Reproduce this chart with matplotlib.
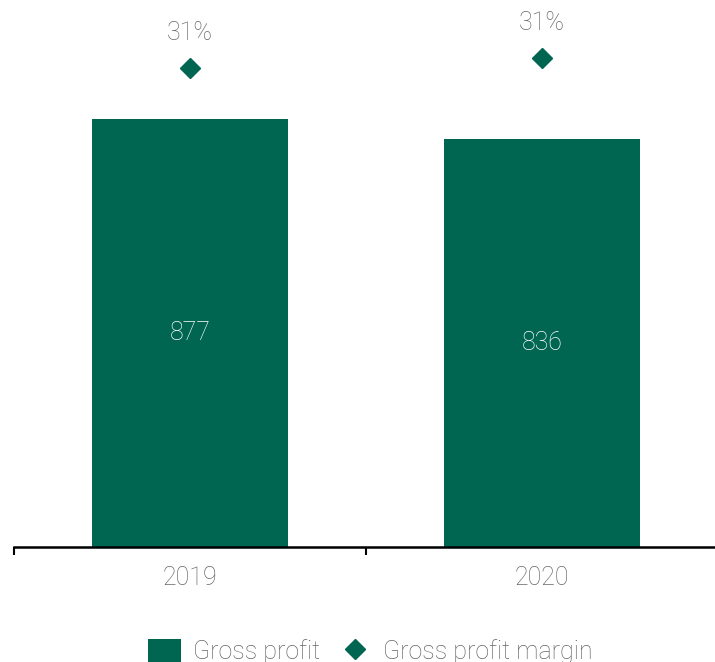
import matplotlib.pyplot as plt
import numpy as np

YEARS = ["2019", "2020"]
GROSS_PROFIT = [877, 836]
GROSS_MARGIN = [30.8, 31.2]

GREEN = "#006652"
GREY = "#666666"
FONT = 18

plt.rcParams["font.family"] = ["Roboto", "DejaVu Sans"]
plt.rcParams["font.weight"] = "light"

fig = plt.figure(figsize=(7.15, 6.62), dpi=100)
ax = fig.add_axes([0.0196, 0.1737, 0.9846, 0.8263])
x = np.arange(len(YEARS))

bars = ax.bar(x, GROSS_PROFIT, width=0.557, color=GREEN, label="Gross profit", zorder=2)
for rect, v in zip(bars, GROSS_PROFIT):
    ax.text(rect.get_x() + rect.get_width() / 2, v / 2, f"{v}",
            ha="center", va="center", color="white", fontsize=FONT)

ax.set_xlim(-0.5, 1.5)
ax.set_ylim(0, 1121)
ax.set_yticks([])
ax.set_xticks(x)
ax.set_xticklabels(YEARS, fontsize=FONT, color=GREY)
ax.tick_params(axis="x", length=0, pad=14)
# category separators below the baseline
ax.set_xticks([-0.5, 0.5, 1.5], minor=True)
ax.tick_params(axis="x", which="minor", length=6, width=1.5, direction="out", color="black")
for side in ["top", "right", "left"]:
    ax.spines[side].set_visible(False)
ax.spines["bottom"].set_linewidth(1.8)

ax2 = ax.twinx()
ax2.set_ylim(11.64, 33.52)
ax2.axis("off")
ax2.plot(x, GROSS_MARGIN, linestyle="none", marker="D", markersize=10.5,
         color=GREEN, label="Gross profit margin")
for xi, m in zip(x, GROSS_MARGIN):
    ax2.annotate(f"{m:.0f}%", (xi, m), xytext=(0, 25), textcoords="offset points",
                 ha="center", va="center", fontsize=FONT, color=GREY)

h1, l1 = ax.get_legend_handles_labels()
h2, l2 = ax2.get_legend_handles_labels()
fig.legend(h1 + h2, l1 + l2, loc="upper center", bbox_to_anchor=(0.518, 0.05),
           ncol=2, frameon=False, fontsize=FONT, labelcolor=GREY,
           handlelength=1.35, handleheight=1.1, handletextpad=0.45, columnspacing=0.75,
           borderaxespad=0)

fig.savefig("out.png", dpi=100)
